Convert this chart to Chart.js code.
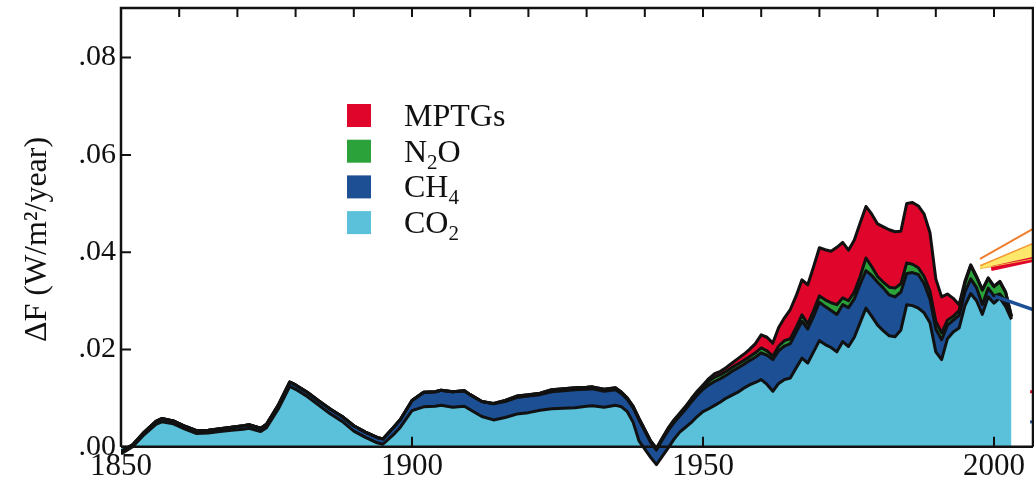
<!DOCTYPE html>
<html>
<head>
<meta charset="utf-8">
<script src="https://cdn.jsdelivr.net/npm/chart.js@4.4.1/dist/chart.umd.min.js"></script>
<style>
  html, body { margin: 0; padding: 0; background: #fff; }
  #wrap { width: 1034px; height: 489px; }
</style>
</head>
<body>
<div id="wrap"><canvas id="forcing"></canvas></div>
<script>
// annual growth of climate forcing by gas (W/m2 per year)
const years = [
  1850, 1852, 1854, 1856, 1857, 1859, 1861, 1863, 1865, 1867,
  1869, 1871, 1872, 1874, 1875, 1877, 1879, 1880, 1882, 1884,
  1886, 1888, 1890, 1892, 1894, 1895, 1897, 1898, 1900, 1902,
  1904, 1905, 1907, 1909, 1910, 1912, 1914, 1916, 1918, 1920,
  1922, 1924, 1926, 1928, 1930, 1931, 1933, 1935, 1936, 1937,
  1938, 1939, 1940, 1941, 1942, 1943, 1944, 1945, 1946, 1947,
  1948, 1949,
  1950, 1951, 1952, 1953, 1954, 1955, 1956, 1957, 1958, 1959,
  1960, 1961, 1962, 1963, 1964, 1965, 1966, 1967, 1968, 1969,
  1970, 1971, 1972, 1973, 1974, 1975, 1976, 1977, 1978, 1979,
  1980, 1981, 1982, 1983, 1984, 1985, 1986, 1987, 1988, 1989,
  1990, 1991, 1992, 1993, 1994, 1995, 1996, 1997, 1998, 1999,
  2000, 2001, 2002, 2003
];

const co2 = [
  -0.0015, 0.0000, 0.0025, 0.0046, 0.0051, 0.0047, 0.0036, 0.0027, 0.0028, 0.0031,
  0.0034, 0.0036, 0.0038, 0.0031, 0.0039, 0.0077, 0.0124, 0.0118, 0.0103, 0.0085,
  0.0067, 0.0052, 0.0032, 0.0019, 0.0008, 0.0005, 0.0027, 0.0040, 0.0074, 0.0082,
  0.0083, 0.0085, 0.0081, 0.0083, 0.0076, 0.0062, 0.0055, 0.0060, 0.0067, 0.0070,
  0.0075, 0.0078, 0.0079, 0.0080, 0.0083, 0.0084, 0.0081, 0.0085, 0.0082, 0.0072,
  0.0050, 0.0012, -0.0005, -0.0022, -0.0037, -0.0020, -0.0003, 0.0015, 0.0030, 0.0040,
  0.0050, 0.0062,
  0.0072, 0.0078, 0.0085, 0.0092, 0.0100, 0.0106, 0.0112, 0.0120, 0.0127, 0.0132,
  0.0138, 0.0128, 0.0114, 0.0130, 0.0138, 0.0141, 0.0162, 0.0182, 0.0172, 0.0195,
  0.0218, 0.0210, 0.0204, 0.0195, 0.0216, 0.0206, 0.0225, 0.0255, 0.0285, 0.0268,
  0.0250, 0.0238, 0.0228, 0.0226, 0.0240, 0.0292, 0.0290, 0.0285, 0.0275, 0.0255,
  0.0195, 0.0179, 0.0222, 0.0236, 0.0244, 0.0290, 0.0315, 0.0300, 0.0272, 0.0308,
  0.0295, 0.0306, 0.0288, 0.0262
];

const ch4 = [
  0.0005, 0.0004, 0.0005, 0.0006, 0.0007, 0.0006, 0.0006, 0.0006, 0.0006, 0.0006,
  0.0006, 0.0007, 0.0007, 0.0007, 0.0007, 0.0008, 0.0009, 0.0009, 0.0009, 0.0009,
  0.0010, 0.0010, 0.0011, 0.0011, 0.0011, 0.0011, 0.0015, 0.0016, 0.0021, 0.0030,
  0.0030, 0.0031, 0.0032, 0.0032, 0.0031, 0.0031, 0.0033, 0.0033, 0.0034, 0.0034,
  0.0032, 0.0035, 0.0036, 0.0037, 0.0035, 0.0035, 0.0033, 0.0032, 0.0027, 0.0025,
  0.0030, 0.0043, 0.0037, 0.0031, 0.0030, 0.0034, 0.0036, 0.0034, 0.0033, 0.0037,
  0.0042, 0.0044,
  0.0046, 0.0049, 0.0049, 0.0048, 0.0047, 0.0049, 0.0050, 0.0049, 0.0050, 0.0052,
  0.0055, 0.0060, 0.0065, 0.0067, 0.0069, 0.0071, 0.0073, 0.0076, 0.0070, 0.0073,
  0.0079, 0.0078, 0.0076, 0.0077, 0.0076, 0.0080, 0.0079, 0.0079, 0.0077, 0.0084,
  0.0088, 0.0088, 0.0084, 0.0082, 0.0078, 0.0064, 0.0068, 0.0069, 0.0060, 0.0048,
  0.0047, 0.0041, 0.0028, 0.0024, 0.0026, 0.0028, 0.0030, 0.0027, 0.0020, 0.0018,
  0.0015, 0.0008, 0.0012, 0.0003
];

const n2o = [
  0, 0, 0, 0, 0, 0, 0, 0, 0, 0,
  0, 0, 0, 0, 0, 0, 0, 0, 0, 0,
  0, 0, 0, 0, 0, 0, 0, 0, 0, 0,
  0, 0, 0, 0, 0, 0, 0.0001, 0.0002, 0.0003, 0.0003,
  0.0003, 0.0004, 0.0004, 0.0004, 0.0004, 0.0004, 0.0004, 0.0004, 0.0003, 0.0003,
  0.0003, 0.0003, 0.0003, 0.0003, 0.0003, 0.0003, 0.0004, 0.0004, 0.0004, 0.0004,
  0.0005, 0.0005,
  0.0006, 0.0008, 0.0009, 0.0008, 0.0008, 0.0008, 0.0008, 0.0008, 0.0008, 0.0009,
  0.0010, 0.0009, 0.0007, 0.0010, 0.0011, 0.0010, 0.0010, 0.0013, 0.0010, 0.0012,
  0.0013, 0.0014, 0.0016, 0.0020, 0.0014, 0.0014, 0.0014, 0.0016, 0.0026, 0.0018,
  0.0012, 0.0012, 0.0016, 0.0018, 0.0017, 0.0022, 0.0017, 0.0014, 0.0015, 0.0017,
  0.0016, 0.0014, 0.0010, 0.0008, 0.0010, 0.0018, 0.0027, 0.0022, 0.0030, 0.0020,
  0.0019, 0.0025, 0.0017, 0.0003
];

const mptgs = [
  0, 0, 0, 0, 0, 0, 0, 0, 0, 0,
  0, 0, 0, 0, 0, 0, 0, 0, 0, 0,
  0, 0, 0, 0, 0, 0, 0, 0, 0, 0,
  0, 0, 0, 0, 0, 0, 0, 0, 0, 0,
  0, 0, 0, 0, 0, 0, 0, 0, 0, 0,
  0, 0, 0, 0, 0.0001, 0.0001, 0.0001, 0.0002, 0.0002, 0.0002,
  0.0002, 0.0003,
  0.0003, 0.0005, 0.0007, 0.0007, 0.0008, 0.0009, 0.0011, 0.0013, 0.0015, 0.0019,
  0.0027, 0.0028, 0.0027, 0.0038, 0.0047, 0.0060, 0.0065, 0.0072, 0.0081, 0.0090,
  0.0099, 0.0103, 0.0106, 0.0118, 0.0114, 0.0104, 0.0107, 0.0110, 0.0106, 0.0108,
  0.0108, 0.0114, 0.0118, 0.0116, 0.0108, 0.0122, 0.0127, 0.0127, 0.0128, 0.0120,
  0.0087, 0.0074, 0.0054, 0.0037, 0.0012, 0.0004, 0.0002, 0.0001, 0.0001, 0.0001,
  0.0001, 0.0001, 0.0001, 0.0000
];

// scenario growth rates past 2000
const scenarioYears = [1997.6, 2006.7];
const highScenario = [0.0386, 0.0448];
const bandUpper = [0.0372, 0.0418];
const bandLower = [0.0366, 0.0386];
const redYears = [1999.5, 2006.7];
const redScenario = [0.0366, 0.0385];
const blueYears = [2000.2, 2006.7];
const blueScenario = [0.0309, 0.0282];
const edgeYears = [2006.2, 2006.7];
const edgeRed = [0.0113, 0.0113];
const edgeBlue = [0.0051, 0.0051];

const yTicks = [0, 0.02, 0.04, 0.06, 0.08];
const xTicks = [1850, 1900, 1950, 2000];
const topTicks = [1860, 1870, 1880, 1890, 1900, 1910, 1920, 1930, 1940, 1950, 1960, 1970, 1980, 1990, 2000];

const legendItems = [
  { label: 'MPTGs', sub: '', tail: '', color: '#e0062b' },
  { label: 'N', sub: '2', tail: 'O', color: '#2ba33a' },
  { label: 'CH', sub: '4', tail: '', color: '#1c4f93' },
  { label: 'CO', sub: '2', tail: '', color: '#5bc1da' }
];

const SERIF = "'Liberation Serif', 'Times New Roman', serif";

// running sums so each layer sits on the one below it
const stackOf = (...parts) =>
  years.map((yr, i) => ({ x: yr, y: parts.reduce((s, p) => s + p[i], 0) }));
const pairs = (xs, ys) => xs.map((x, i) => ({ x, y: ys[i] }));

const layer = (data, color, fill) => ({
  data,
  fill,
  backgroundColor: color,
  borderColor: '#111',
  borderWidth: 3,
  borderJoinStyle: 'round',
  pointRadius: 0,
  tension: 0
});

const segment = (data, color, width) => ({
  data,
  fill: false,
  borderColor: color,
  borderWidth: width,
  pointRadius: 0,
  tension: 0
});

const frame = {
  id: 'frame',
  afterDatasetsDraw(chart) {
    const { ctx, chartArea: a, scales: { x, y } } = chart;
    const y0 = y.getPixelForValue(0);
    ctx.save();
    ctx.strokeStyle = '#111';
    ctx.lineWidth = 2.5;
    ctx.beginPath();
    ctx.moveTo(a.left, y0);
    ctx.lineTo(a.left, a.top);
    ctx.lineTo(a.right, a.top);
    ctx.lineTo(a.right, y0);
    ctx.moveTo(a.left, y0);
    ctx.lineTo(a.right, y0);
    ctx.stroke();
    ctx.lineWidth = 2;
    ctx.beginPath();
    topTicks.forEach(v => {
      const px = x.getPixelForValue(v);
      ctx.moveTo(px, a.top);
      ctx.lineTo(px, a.top + 9);
    });
    xTicks.forEach(v => {
      const px = x.getPixelForValue(v);
      ctx.moveTo(px, y0);
      ctx.lineTo(px, y0 - 10);
    });
    yTicks.forEach(v => {
      const py = y.getPixelForValue(v);
      ctx.moveTo(a.left, py);
      ctx.lineTo(a.left + 10, py);
    });
    ctx.stroke();
    ctx.restore();
  }
};

// legend with chemical subscripts
const gasLegend = {
  id: 'gasLegend',
  afterDraw(chart) {
    const { ctx } = chart;
    ctx.save();
    ctx.textBaseline = 'alphabetic';
    legendItems.forEach((item, i) => {
      const top = 104 + i * 35.7;
      ctx.fillStyle = item.color;
      ctx.fillRect(347, top, 24, 23);
      ctx.fillStyle = '#111';
      ctx.font = '32px ' + SERIF;
      let tx = 404;
      const base = top + 22;
      ctx.fillText(item.label, tx, base);
      tx += ctx.measureText(item.label).width;
      if (item.sub) {
        ctx.font = '21px ' + SERIF;
        ctx.fillText(item.sub, tx, base + 7);
        tx += ctx.measureText(item.sub).width;
      }
      if (item.tail) {
        ctx.font = '32px ' + SERIF;
        ctx.fillText(item.tail, tx, base);
      }
    });
    ctx.restore();
  }
};

new Chart(document.getElementById('forcing'), {
  type: 'line',
  data: {
    datasets: [
      segment(pairs(scenarioYears, highScenario), '#ef7d2d', 2),
      {
        data: pairs(scenarioYears, bandUpper),
        fill: '+1',
        backgroundColor: '#fde86b',
        borderColor: '#f29a34',
        borderWidth: 1.5,
        pointRadius: 0
      },
      segment(pairs(scenarioYears, bandLower), '#f5b445', 1),
      segment(pairs(redYears, redScenario), '#e0062b', 5),
      segment(pairs(blueYears, blueScenario), '#1c4f93', 3.5),
      segment(pairs(edgeYears, edgeRed), '#e0062b', 3),
      segment(pairs(edgeYears, edgeBlue), '#1c4f93', 3),
      layer(stackOf(co2, ch4, n2o, mptgs), '#e0062b', '+1'),
      layer(stackOf(co2, ch4, n2o), '#2ba33a', '+1'),
      layer(stackOf(co2, ch4), '#1c4f93', '+1'),
      layer(stackOf(co2), '#5bc1da', 'origin')
    ]
  },
  options: {
    responsive: true,
    maintainAspectRatio: false,
    animation: false,
    layout: { padding: { top: 8, right: 1, bottom: 18, left: 0 } },
    plugins: {
      legend: { display: false },
      tooltip: { enabled: false },
      filler: { drawTime: 'beforeDatasetsDraw' }
    },
    scales: {
      x: {
        type: 'linear',
        min: 1850,
        max: 2006.7,
        position: { y: 0 },
        grid: { display: false, drawTicks: false },
        border: { display: false },
        afterBuildTicks: scale => { scale.ticks = xTicks.map(value => ({ value })); },
        afterFit: scale => { scale.paddingLeft = 0; scale.paddingRight = 0; },
        ticks: {
          padding: 2,
          color: '#111',
          font: { family: SERIF, size: 31 },
          callback: v => String(v)
        }
      },
      y: {
        min: -0.005,
        max: 0.0902,
        grid: { display: false, drawTicks: false },
        border: { display: false },
        afterBuildTicks: scale => { scale.ticks = yTicks.map(value => ({ value })); },
        afterFit: scale => {
          scale.width = 121;
          scale.paddingTop = 0;
          scale.paddingBottom = 0;
        },
        ticks: {
          padding: 5,
          color: '#111',
          font: { family: SERIF, size: 30 },
          callback: v => '.' + Math.round(v * 100).toString().padStart(2, '0')
        },
        title: {
          display: true,
          text: 'ΔF (W/m²/year)',
          color: '#111',
          padding: { top: 18, bottom: 0 },
          font: { family: SERIF, size: 32 }
        }
      }
    }
  },
  plugins: [frame, gasLegend]
});
</script>
</body>
</html>
